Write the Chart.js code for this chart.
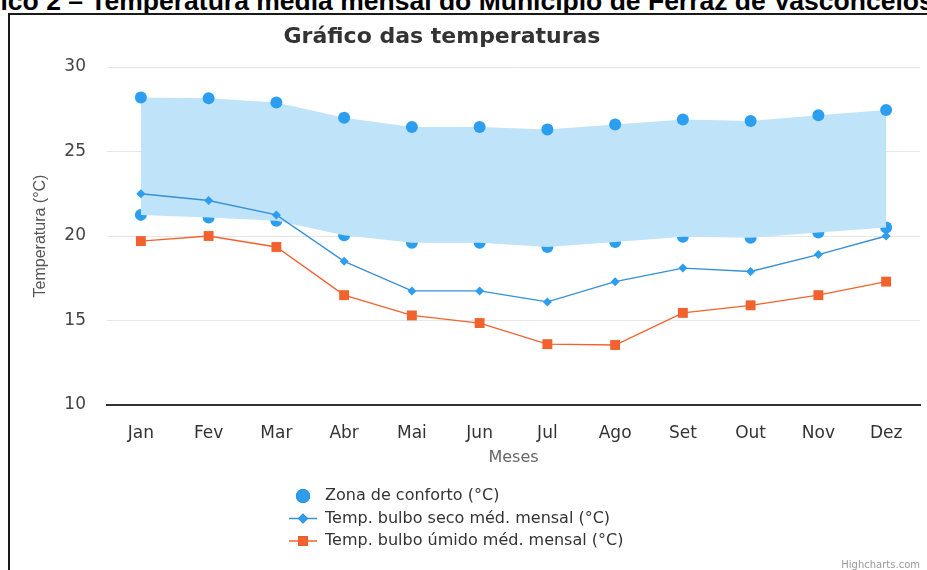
<!DOCTYPE html>
<html>
<head>
<meta charset="utf-8">
<script src="https://cdn.jsdelivr.net/npm/chart.js@4.4.1/dist/chart.umd.min.js"></script>
<style>
  html, body { margin: 0; padding: 0; background: #fff; width: 927px; height: 570px; overflow: hidden; }
  #caption { position: absolute; left: -54px; top: -12px; white-space: nowrap;
    font-family: "Liberation Sans", Arial, sans-serif; font-weight: bold; font-size: 26.5px; line-height: 26px; color: #000; }
  #frame { position: absolute; left: 8px; top: 13px; width: 1000px; height: 700px; border-left: 2px solid #1a1a1a; border-top: 2px solid #1a1a1a; }
  #wrap { position: absolute; left: 0; top: 0; width: 927px; height: 570px; }
</style>
</head>
<body>
<div id="caption">Gráfico 2 – Temperatura média mensal do Município de Ferraz de Vasconcelos</div>
<div id="frame"></div>
<div id="wrap"><canvas id="c" width="927" height="570"></canvas></div>
<script>
const months = ["Jan","Fev","Mar","Abr","Mai","Jun","Jul","Ago","Set","Out","Nov","Dez"];
const comfortMax = [28.2, 28.15, 27.9, 27.0, 26.45, 26.45, 26.3, 26.6, 26.9, 26.8, 27.15, 27.45];
const comfortMin = [21.25, 21.1, 20.9, 20.05, 19.6, 19.6, 19.35, 19.65, 19.95, 19.9, 20.2, 20.5];
const dryBulb = [22.5, 22.1, 21.25, 18.5, 16.75, 16.75, 16.1, 17.3, 18.1, 17.9, 18.9, 20.0];
const wetBulb = [19.7, 20.0, 19.35, 16.5, 15.3, 14.85, 13.6, 13.55, 15.45, 15.9, 16.5, 17.3];
const yTicks = [10, 15, 20, 25, 30];
const chartTitle = "Gráfico das temperaturas";
const yTitle = "Temperatura (°C)";
const xTitle = "Meses";
const credit = "Highcharts.com";

const FONT = "'DejaVu Sans', Verdana, sans-serif";
const blue = "#2b9ef0";
const lineBlue = "#3790d4";
const orange = "#f2622e";

const extras = {
  id: "extras",
  afterDraw(chart) {
    const ctx = chart.ctx;
    ctx.save();
    // title
    ctx.fillStyle = "#333";
    ctx.font = "bold 22px " + FONT;
    ctx.textAlign = "center";
    ctx.textBaseline = "middle";
    ctx.fillText(chartTitle, 442, 37);
    // legend
    const items = chart.data.datasets.filter(d => !d.hideInLegend);
    items.forEach((d, i) => {
      const y = 496 + i * 22.5;
      const cx = 303;
      if (d.borderWidth > 0) {
        ctx.strokeStyle = d.borderColor;
        ctx.lineWidth = 1.5;
        ctx.beginPath(); ctx.moveTo(289, y); ctx.lineTo(317, y); ctx.stroke();
      }
      const r = d.pointStyle === "circle" ? 7 : (d.pointStyle === "rect" ? 7 : 5);
      Chart.helpers.drawPoint(ctx, { pointStyle: d.pointStyle, radius: r, rotation: 0, borderWidth: 0 }, cx, y);
      ctx.fillStyle = d.pointBackgroundColor;
      ctx.fill();
      ctx.fillStyle = "#333";
      ctx.font = "16px " + FONT;
      ctx.textAlign = "left";
      ctx.textBaseline = "middle";
      ctx.fillText(d.label, 325, y);
    });
    // credit
    ctx.fillStyle = "#999";
    ctx.font = "10px " + FONT;
    ctx.textAlign = "right";
    ctx.textBaseline = "middle";
    ctx.fillText(credit, 920, 565);
    ctx.restore();
  }
};

new Chart(document.getElementById("c"), {
  type: "line",
  data: {
    labels: months,
    datasets: [
      { label: "Zona de conforto (°C)", data: comfortMax, fill: "+1", backgroundColor: "#bfe3f8",
        borderWidth: 0, borderColor: "rgba(0,0,0,0)", pointStyle: "circle", pointRadius: 6,
        pointBackgroundColor: blue, pointBorderColor: blue, pointBorderWidth: 0, order: 3 },
      { label: "Zona de conforto mín (°C)", data: comfortMin, fill: false, hideInLegend: true,
        borderWidth: 0, borderColor: "rgba(0,0,0,0)", pointStyle: "circle", pointRadius: 6,
        pointBackgroundColor: blue, pointBorderColor: blue, pointBorderWidth: 0, order: 3 },
      { label: "Temp. bulbo seco méd. mensal (°C)", data: dryBulb, fill: false,
        borderWidth: 1.3, borderColor: lineBlue, pointStyle: "rectRot", pointRadius: 4.5,
        pointBackgroundColor: blue, pointBorderColor: blue, pointBorderWidth: 0, order: 2 },
      { label: "Temp. bulbo úmido méd. mensal (°C)", data: wetBulb, fill: false,
        borderWidth: 1.3, borderColor: orange, pointStyle: "rect", pointRadius: 7,
        pointBackgroundColor: orange, pointBorderColor: orange, pointBorderWidth: 0, order: 1 }
    ]
  },
  options: {
    responsive: false,
    animation: false,
    events: [],
    layout: { padding: { left: 22, right: 5, top: 67, bottom: 99 } },
    plugins: { legend: { display: false }, title: { display: false }, tooltip: { enabled: false } },
    scales: {
      x: {
        offset: true,
        grid: { display: false, drawTicks: false },
        border: { display: true, color: "#333", width: 2 },
        ticks: { color: "#333", font: { family: FONT, size: 17 }, padding: 18, maxRotation: 0 },
        title: { display: true, text: xTitle, color: "#666", font: { family: FONT, size: 16 }, padding: { top: 6 } },
        afterFit(s) { s.height = 66; }
      },
      y: {
        min: 10, max: 30,
        afterBuildTicks(s) { s.ticks = yTicks.map(v => ({ value: v })); },
        grid: { color: "#e6e6e6", drawTicks: false, lineWidth: 1 },
        border: { display: false },
        ticks: { color: "#444", font: { family: FONT, size: 17 }, padding: 21 },
        title: { display: true, text: yTitle, color: "#555", font: { family: "'Liberation Sans', Arial, sans-serif", size: 16 }, padding: { top: 9 } },
        afterFit(s) { s.width = 85; }
      }
    }
  },
  plugins: [extras]
});
</script>
</body>
</html>
